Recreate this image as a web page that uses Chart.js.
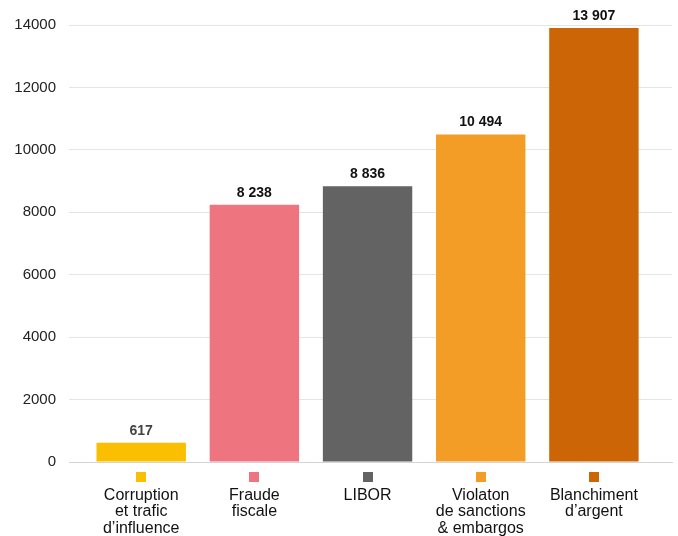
<!DOCTYPE html>
<html>
<head>
<meta charset="utf-8">
<script src="https://cdn.jsdelivr.net/npm/chart.js@4/dist/chart.umd.min.js"></script>
<style>
  html, body { margin: 0; padding: 0; background: #fff; }
  #wrap { width: 678px; height: 536px; }
</style>
</head>
<body>
<div id="wrap"><canvas id="chart"></canvas></div>
<script>
// data
const categories = [
  ["Corruption", "et trafic", "d\u2019influence"],
  ["Fraude", "fiscale"],
  ["LIBOR"],
  ["Violaton", "de sanctions", "& embargos"],
  ["Blanchiment", "d\u2019argent"]
];
const values = [617, 8238, 8836, 10494, 13907];
const valueLabels = ["617", "8 238", "8 836", "10 494", "13 907"];
const barColors = ["#fabf00", "#ee7580", "#636363", "#f49d26", "#cc6505"];
const yTicks = [0, 2000, 4000, 6000, 8000, 10000, 12000, 14000];

const FONT = "'Liberation Sans', Arial, Helvetica, sans-serif";

// value labels above bars
const valueLabelPlugin = {
  id: "valueLabels",
  afterDatasetsDraw(chart) {
    const ctx = chart.ctx;
    const meta = chart.getDatasetMeta(0);
    ctx.save();
    ctx.font = "bold 14px " + FONT;
    ctx.textAlign = "center";
    ctx.textBaseline = "alphabetic";
    meta.data.forEach((bar, i) => {
      ctx.fillStyle = i === 0 ? "#444" : "#111";
      ctx.fillText(valueLabels[i], bar.x, bar.y - 8);
    });
    ctx.restore();
  }
};

// little coloured squares under the axis
const markerPlugin = {
  id: "markers",
  afterDraw(chart) {
    const ctx = chart.ctx;
    const xs = chart.scales.x;
    const top = chart.chartArea.bottom + 10;
    ctx.save();
    values.forEach((v, i) => {
      const px = xs.getPixelForValue(i);
      ctx.fillStyle = barColors[i];
      ctx.fillRect(Math.round(px - 5), Math.round(top), 10, 10);
    });
    ctx.restore();
  }
};

new Chart(document.getElementById("chart"), {
  type: "bar",
  data: {
    datasets: [{
      data: values.map((v, i) => ({ x: i, y: v })),
      backgroundColor: barColors,
      borderWidth: 0,
      barPercentage: 0.79,
      categoryPercentage: 1
    }]
  },
  options: {
    responsive: true,
    maintainAspectRatio: false,
    animation: false,
    layout: { padding: { top: 25, right: 6, left: 0, bottom: 0 } },
    plugins: {
      legend: { display: false },
      tooltip: { enabled: false }
    },
    scales: {
      x: {
        type: "linear",
        offset: false,
        min: -0.638,
        max: 4.69,
        grid: { display: false, drawTicks: false, offset: false },
        border: { display: true, color: "#d4d4d4", width: 1 },
        afterBuildTicks: (scale) => {
          scale.ticks = categories.map((c, i) => ({ value: i }));
        },
        afterFit: (scale) => { scale.height = 74; },
        ticks: {
          autoSkip: false,
          maxRotation: 0,
          padding: 25,
          color: "#111",
          font: { family: FONT, size: 16, lineHeight: 1.03 },
          callback: (v) => categories[v]
        }
      },
      y: {
        min: 0,
        max: 14000,
        afterBuildTicks: (scale) => {
          scale.ticks = yTicks.map(v => ({ value: v }));
        },
        afterFit: (scale) => { scale.width = 69; },
        grid: { color: "#e4e4e4", lineWidth: 1, drawTicks: false },
        border: { display: false },
        ticks: {
          padding: 13,
          color: "#222",
          font: { family: FONT, size: 15 },
          callback: (v) => String(v)
        }
      }
    }
  },
  plugins: [valueLabelPlugin, markerPlugin]
});
</script>
</body>
</html>
